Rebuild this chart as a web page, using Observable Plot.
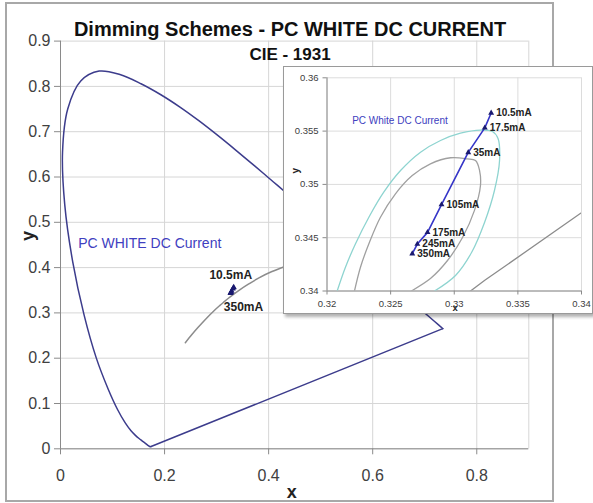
<!DOCTYPE html>
<html><head><meta charset="utf-8">
<script src="https://cdn.jsdelivr.net/npm/d3@7"></script>
<script src="https://cdn.jsdelivr.net/npm/@observablehq/plot@0.6"></script>
<style>
html,body{margin:0;padding:0;background:#fff;}
#wrap{position:relative;width:593px;height:503px;overflow:hidden;font-family:"Liberation Sans",Arial,sans-serif;}
#main{position:absolute;left:0;top:0;}
#frame{position:absolute;left:5px;top:2px;width:545px;height:496px;border:2px solid #a8a8a8;pointer-events:none;}
#inset{position:absolute;left:283px;top:66px;border:1px solid #9a9a9a;background:#fff;box-shadow:2px 3px 3px rgba(0,0,0,0.3);}
</style></head><body>
<div id="wrap"><div id="main"></div><div id="frame"></div><div id="inset"></div></div>
<script>
// CIE 1931 spectral locus (x, y)
const locusX = [0.1741,0.1733,0.1714,0.1689,0.1644,0.1566,0.1510,0.1440,0.1355,0.1241,0.1096,0.0913,0.0687,0.0454,0.0235,0.0082,0.0039,0.0139,0.0389,0.0743,0.1142,0.1547,0.1929,0.2296,0.2658,0.3016,0.3373,0.3731,0.4087,0.4441,0.4788,0.5125,0.5448,0.5752,0.6029,0.6270,0.6482,0.6658,0.6915,0.7079,0.7190,0.7260,0.7300,0.7334,0.7347];
const locusY = [0.0050,0.0048,0.0051,0.0069,0.0109,0.0177,0.0227,0.0297,0.0399,0.0578,0.0868,0.1327,0.2007,0.2950,0.4127,0.5384,0.6548,0.7502,0.8120,0.8338,0.8262,0.8059,0.7816,0.7543,0.7243,0.6923,0.6589,0.6245,0.5896,0.5547,0.5202,0.4866,0.4544,0.4242,0.3965,0.3725,0.3514,0.3340,0.3083,0.2920,0.2809,0.2740,0.2700,0.2666,0.2653];
// Planckian (blackbody) locus
const planckX = [0.2399,0.2525,0.2637,0.2807,0.2951,0.3064,0.3135,0.3221,0.3324,0.3451,0.3611,0.3805,0.4053,0.4369,0.4770,0.5269,0.5857,0.6526];
const planckY = [0.2342,0.2522,0.2672,0.2884,0.3049,0.3166,0.3236,0.3318,0.3410,0.3516,0.3635,0.3768,0.3907,0.4041,0.4137,0.4133,0.3931,0.3446];
// PC White LED, DC current dimming
const currents = ["10.5mA","17.5mA","35mA","105mA","175mA","245mA","350mA"];
const ledX = [0.3329,0.3324,0.3311,0.3290,0.3279,0.3271,0.3267];
const ledY = [0.3567,0.3553,0.3530,0.3481,0.3455,0.3444,0.3435];
// MacAdam-type ellipses (inset)
const outerX = [0.3208,0.32145,0.32224,0.32329,0.32446,0.32578,0.32735,0.32892,0.33049,0.33206,0.33300,0.33344,0.33356,0.33316,0.33238,0.33136,0.33010,0.32845];
const outerY = [0.3400,0.34223,0.34443,0.34692,0.34927,0.35130,0.35302,0.35412,0.35480,0.35510,0.35496,0.35431,0.35224,0.34943,0.34643,0.34361,0.34146,0.3400];
const innerX = [0.32216,0.32263,0.32329,0.32420,0.32538,0.32670,0.32813,0.32971,0.33102,0.33167,0.33199,0.33206,0.33159,0.33065,0.32947,0.32813,0.32664];
const innerY = [0.3400,0.34223,0.34443,0.34692,0.34912,0.35083,0.35193,0.35250,0.35240,0.35224,0.35130,0.34990,0.34756,0.34502,0.34286,0.34117,0.3400];
// ticks and texts
const mainXTicks = [0,0.2,0.4,0.6,0.8];
const mainYTicks = [0,0.1,0.2,0.3,0.4,0.5,0.6,0.7,0.8,0.9];
const insetXTicks = [0.32,0.325,0.33,0.335,0.34];
const insetYTicks = [0.34,0.345,0.35,0.355,0.36];
const titleText = "Dimming Schemes - PC WHITE DC CURRENT";
const subtitleText = "CIE - 1931";
const mainSeriesName = "PC WHITE DC Current";
const insetSeriesName = "PC White DC Current";
const xLabel = "x", yLabel = "y";

const font = "Liberation Sans, Arial, sans-serif";
const toRows = (xs, ys) => xs.map((x, i) => ({x, y: ys[i]}));
const locus = toRows(locusX, locusY);
const purpleLine = [locus[locus.length - 1], locus[0]];
const planck = toRows(planckX, planckY);
const led = ledX.map((x, i) => ({x, y: ledY[i], label: currents[i]}));
const outer = toRows(outerX, outerY);
const inner = toRows(innerX, innerY);

const gridC = "#d6d6d6", axisC = "#8a8a8a", textC = "#404040";

const main = Plot.plot({
  width: 593, height: 503,
  marginLeft: 60, marginRight: 64.7, marginTop: 40.6, marginBottom: 54.7,
  style: {fontFamily: font, background: "white"},
  x: {domain: [0, 0.9]},
  y: {domain: [0, 0.9]},
  marks: [
    Plot.gridX(mainXTicks, {stroke: gridC, strokeOpacity: 1}),
    Plot.gridY(mainYTicks, {stroke: gridC, strokeOpacity: 1}),
    Plot.ruleX([0.9], {stroke: gridC}),
    Plot.ruleX([0], {stroke: axisC}),
    Plot.ruleY([0], {stroke: axisC}),
    Plot.axisX(mainXTicks, {tickSize: 6, tickPadding: 15, fontSize: 16, fill: textC, stroke: axisC, label: null, tickFormat: d => String(d)}),
    Plot.axisY(mainYTicks, {tickSize: 6, tickPadding: 4, fontSize: 16, fill: textC, stroke: axisC, label: null, tickFormat: d => String(d)}),
    Plot.line(locus, {x: "x", y: "y", stroke: "#3c3c8c", strokeWidth: 1.5, curve: "catmull-rom"}),
    Plot.line(purpleLine, {x: "x", y: "y", stroke: "#3c3c8c", strokeWidth: 1.5}),
    Plot.line(planck, {x: "x", y: "y", stroke: "#8c8c8c", strokeWidth: 1.5, curve: "catmull-rom"}),
    Plot.line(led, {x: "x", y: "y", stroke: "#1a1a70", strokeWidth: 2}),
    Plot.dot(led, {x: "x", y: "y", symbol: "triangle", r: 2.2, fill: "#1a1a70"}),
    Plot.text([led[0]], {x: "x", y: "y", text: "label", dx: -3, dy: -12, fontSize: 12, fontWeight: "bold", fill: "#222"}),
    Plot.text([led[led.length - 1]], {x: "x", y: "y", text: "label", dx: 13, dy: 14, fontSize: 12, fontWeight: "bold", fill: "#222"}),
    Plot.text([mainSeriesName], {text: d => d, frameAnchor: "top-left", dx: 17.7, dy: 202.4, textAnchor: "start", lineAnchor: "middle", fontSize: 14, fill: "#4040c0"}),
    Plot.text([titleText], {text: d => d, frameAnchor: "top", dx: -4.6, dy: -5.6, lineAnchor: "bottom", fontSize: 20, fontWeight: "bold", fill: "#111"}),
    Plot.text([subtitleText], {text: d => d, frameAnchor: "top", dx: -4.6, dy: 18.4, lineAnchor: "bottom", fontSize: 17, fontWeight: "bold", fill: "#111"}),
    Plot.text([xLabel], {text: d => d, frameAnchor: "bottom", dx: -3, dy: 43, lineAnchor: "middle", fontSize: 18, fontWeight: "bold", fill: "#222"}),
    Plot.text([yLabel], {text: d => d, frameAnchor: "left", dx: -32, dy: -4, rotate: -90, lineAnchor: "middle", fontSize: 18, fontWeight: "bold", fill: "#222"})
  ]
});
document.getElementById("main").appendChild(main);

const inset = Plot.plot({
  width: 308, height: 246,
  marginLeft: 42.5, marginRight: 11, marginTop: 10.3, marginBottom: 22.5,
  style: {fontFamily: font, background: "white"},
  x: {domain: [0.32, 0.34]},
  y: {domain: [0.34, 0.36]},
  marks: [
    Plot.gridX(insetXTicks, {stroke: "#dcdcdc", strokeOpacity: 1}),
    Plot.gridY(insetYTicks, {stroke: "#dcdcdc", strokeOpacity: 1}),
    Plot.ruleX([0.32], {stroke: axisC}),
    Plot.ruleY([0.34], {stroke: axisC}),
    Plot.axisX(insetXTicks, {tickSize: 4, tickPadding: 5, fontSize: 9.5, fill: textC, stroke: axisC, label: null, tickFormat: d => String(d)}),
    Plot.axisY(insetYTicks, {tickSize: 4, tickPadding: 4.5, fontSize: 9.5, fill: textC, stroke: axisC, label: null, tickFormat: d => String(d)}),
    Plot.line(outer, {x: "x", y: "y", stroke: "#8ed4d0", strokeWidth: 1.3, curve: "catmull-rom", clip: true}),
    Plot.line(inner, {x: "x", y: "y", stroke: "#a0a0a0", strokeWidth: 1.3, curve: "catmull-rom", clip: true}),
    Plot.line(planck, {x: "x", y: "y", stroke: "#8c8c8c", strokeWidth: 1.3, clip: true}),
    Plot.line(led, {x: "x", y: "y", stroke: "#3535c8", strokeWidth: 1.6}),
    Plot.dot(led, {x: "x", y: "y", symbol: "triangle", r: 2.2, fill: "#1a1a70"}),
    Plot.text(led, {x: "x", y: "y", text: "label", dx: 5, textAnchor: "start", lineAnchor: "middle", fontSize: 10, fontWeight: "bold", fill: "#222"}),
    Plot.text([insetSeriesName], {text: d => d, frameAnchor: "top-left", dx: 25.2, dy: 42.7, textAnchor: "start", lineAnchor: "middle", fontSize: 10, fill: "#4040c0"}),
    Plot.text([xLabel], {text: d => d, frameAnchor: "bottom", dx: 1, dy: 17, lineAnchor: "middle", fontSize: 9.5, fontWeight: "bold", fill: "#222"}),
    Plot.text([yLabel], {text: d => d, frameAnchor: "left", dx: -30.8, dy: -11, rotate: -90, lineAnchor: "middle", fontSize: 10, fontWeight: "bold", fill: "#222"})
  ]
});
document.getElementById("inset").appendChild(inset);
</script>
</body></html>
